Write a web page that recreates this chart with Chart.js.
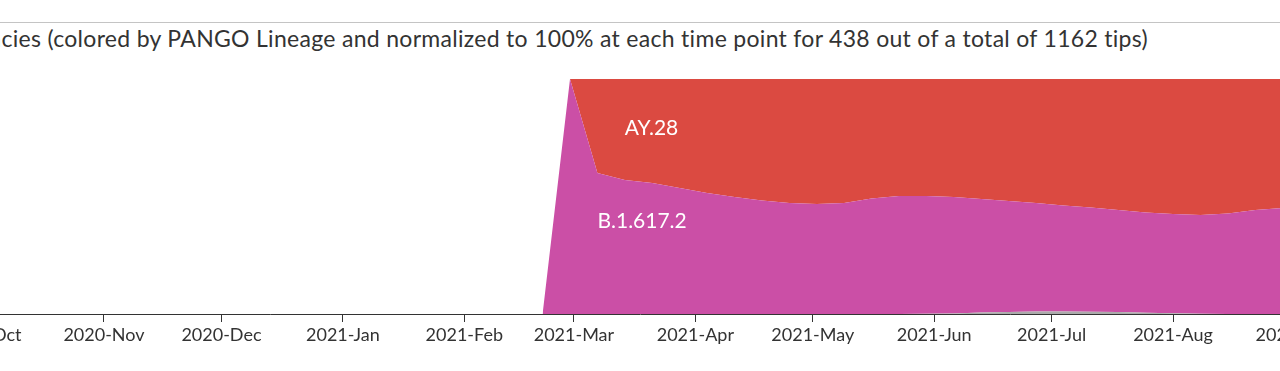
<!DOCTYPE html>
<html>
<head>
<meta charset="utf-8">
<script src="https://cdn.jsdelivr.net/npm/chart.js@4/dist/chart.umd.min.js"></script>
<style>
  html, body { margin: 0; padding: 0; background: #fff; }
  body { width: 1280px; height: 371px; overflow: hidden; position: relative; font-family: Lato, sans-serif; }
  .rule { position: absolute; left: 0; top: 22px; width: 1280px; height: 1px; background: #c4c4c4; }
  .title { position: absolute; right: 132px; top: 24px; font-size: 23px; letter-spacing: 0.3px; color: #333; white-space: nowrap; }
  .chartBox { position: absolute; left: -100px; top: 79px; width: 1480px; height: 292px; }
</style>
</head>
<body>
  <div class="rule"></div>
  <div class="title">Frequencies (colored by PANGO Lineage and normalized to 100% at each time point for 438 out of a total of 1162 tips)</div>
  <div class="chartBox"><canvas id="freqChart"></canvas></div>

<script>
  // weekly pivots
  const pivots = [
    '2021-02-21', '2021-02-28', '2021-03-07', '2021-03-14', '2021-03-21', '2021-03-28',
    '2021-04-04', '2021-04-11', '2021-04-18', '2021-04-25', '2021-05-02', '2021-05-09',
    '2021-05-16', '2021-05-23', '2021-05-30', '2021-06-06', '2021-06-13', '2021-06-20',
    '2021-06-27', '2021-07-04', '2021-07-11', '2021-07-18', '2021-07-25', '2021-08-01',
    '2021-08-08', '2021-08-15', '2021-08-22', '2021-08-29', '2021-09-05'
  ];
  const ay28 = [
    0, 0, 0.40, 0.43, 0.443, 0.464,
    0.485, 0.502, 0.517, 0.528, 0.532, 0.528,
    0.509, 0.498, 0.498, 0.502, 0.511, 0.519,
    0.528, 0.538, 0.547, 0.557, 0.568, 0.574,
    0.579, 0.572, 0.557, 0.549, 0.54
  ];
  const other = [
    0, 0, 0, 0, 0, 0,
    0, 0, 0, 0, 0, 0,
    0, 0, 0.001, 0.002, 0.006, 0.009,
    0.011, 0.011, 0.01, 0.008, 0.005, 0.003,
    0.001, 0, 0, 0, 0
  ];
  // B.1.617.2 takes the rest wherever there is data
  const b16172 = pivots.map((d, i) => i === 0 ? 0 : 1 - ay28[i] - other[i]);

  const tickDates = ['2020-10-01', '2020-11-01', '2020-12-01', '2021-01-01', '2021-02-01', '2021-03-01',
    '2021-04-01', '2021-05-01', '2021-06-01', '2021-07-01', '2021-08-01', '2021-09-01'];
  const tickLabels = ['2020-Oct', '2020-Nov', '2020-Dec', '2021-Jan', '2021-Feb', '2021-Mar',
    '2021-Apr', '2021-May', '2021-Jun', '2021-Jul', '2021-Aug', '2021-Sep'];

  const streamLabels = [
    { text: 'AY.28', date: '2021-03-14', at: 0.76 },
    { text: 'B.1.617.2', date: '2021-03-07', at: 0.365 }
  ];

  function toDay(s) {
    const p = s.split('-').map(Number);
    return Date.UTC(p[0], p[1] - 1, p[2]) / 864e5;
  }

  const pxPerDay = 3.916;
  const xMin = toDay('2020-11-01') - 204 / pxPerDay;
  const xMax = xMin + 1480 / pxPerDay;

  function series(vals) {
    return pivots.map((d, i) => ({ x: toDay(d), y: vals[i] }));
  }

  const labelPlugin = {
    id: 'streamLabels',
    afterDatasetsDraw(chart) {
      const { ctx, scales } = chart;
      ctx.save();
      ctx.fillStyle = '#fff';
      ctx.font = '21px Lato';
      ctx.textAlign = 'left';
      ctx.textBaseline = 'alphabetic';
      streamLabels.forEach(l => {
        ctx.fillText(l.text, scales.x.getPixelForValue(toDay(l.date)), scales.y.getPixelForValue(l.at));
      });
      ctx.restore();
    }
  };

  Chart.defaults.font.family = 'Lato';

  new Chart(document.getElementById('freqChart').getContext('2d'), {
    type: 'line',
    data: {
      datasets: [
        { label: 'other', data: series(other), backgroundColor: '#ababab', fill: 'origin' },
        { label: 'B.1.617.2', data: series(b16172), backgroundColor: '#cb4fa6', fill: '-1' },
        { label: 'AY.28', data: series(ay28), backgroundColor: '#db4a41', fill: '-1' }
      ]
    },
    options: {
      animation: false,
      responsive: true,
      maintainAspectRatio: false,
      layout: { padding: 0 },
      elements: {
        line: { borderWidth: 0, tension: 0 },
        point: { radius: 0 }
      },
      plugins: {
        legend: { display: false },
        tooltip: { enabled: false }
      },
      scales: {
        x: {
          type: 'linear',
          min: xMin,
          max: xMax,
          afterBuildTicks: s => { s.ticks = tickDates.map(d => ({ value: toDay(d) })); },
          afterFit: s => { s.height = 57; },
          ticks: {
            callback: (v, i) => tickLabels[i],
            color: '#333',
            font: { size: 18 },
            padding: 2,
            maxRotation: 0,
            autoSkip: false
          },
          grid: { drawOnChartArea: false, tickLength: 8, color: '#333' },
          border: { display: true, color: '#333', width: 1 }
        },
        y: {
          display: false,
          stacked: true,
          min: 0,
          max: 1
        }
      }
    },
    plugins: [labelPlugin]
  });
</script>
</body>
</html>
